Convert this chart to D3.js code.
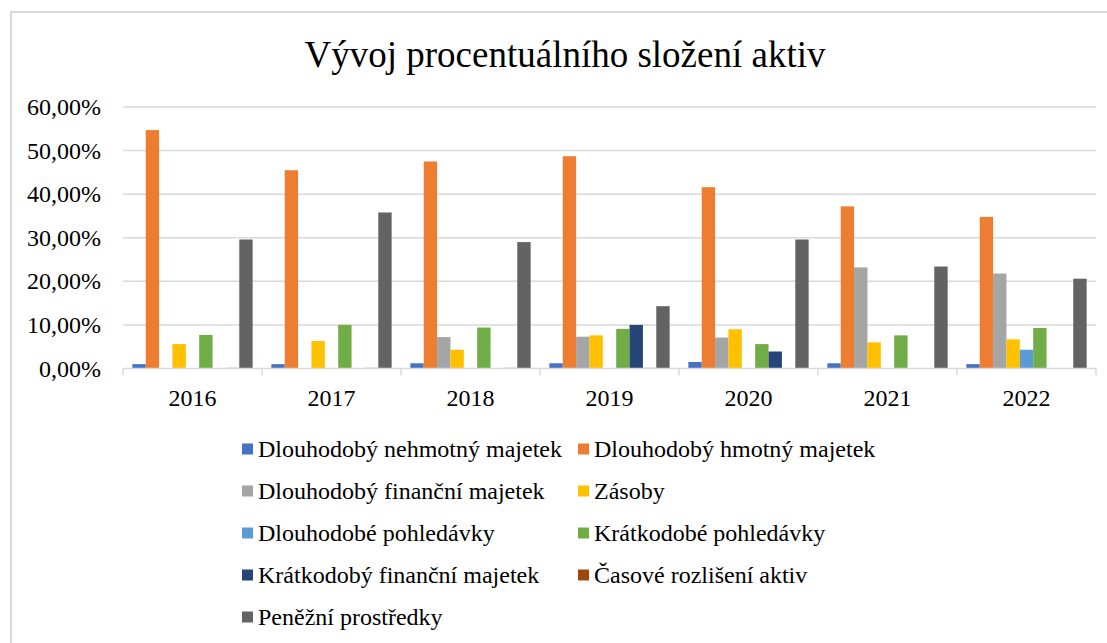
<!DOCTYPE html>
<html>
<head>
<meta charset="utf-8">
<script src="https://cdn.jsdelivr.net/npm/d3@7"></script>
<style>
  body { margin: 0; background: #fff; }
  svg { display: block; font-family: "Liberation Serif", "Times New Roman", serif; }
</style>
</head>
<body>
<div id="main"></div>
<script>
const years = ["2016", "2017", "2018", "2019", "2020", "2021", "2022"];
const seriesNames = [
  "Dlouhodobý nehmotný majetek",
  "Dlouhodobý hmotný majetek",
  "Dlouhodobý finanční majetek",
  "Zásoby",
  "Dlouhodobé pohledávky",
  "Krátkodobé pohledávky",
  "Krátkodobý finanční majetek",
  "Časové rozlišení aktiv",
  "Peněžní prostředky"
];
const colors = ["#4472C4", "#ED7D31", "#A5A5A5", "#FFC000", "#5B9BD5", "#70AD47", "#264478", "#9E480E", "#636363"];

// values in %
const dnm = [1.0, 1.0, 1.2, 1.2, 1.5, 1.2, 1.0];
const dhm = [54.7, 45.5, 47.5, 48.7, 41.6, 37.2, 34.8];
const dfm = [0, 0, 7.2, 7.3, 7.1, 23.2, 21.8];
const zasoby = [5.6, 6.3, 4.3, 7.6, 9.0, 6.0, 6.7];
const dp = [0, 0, 0, 0, 0, 0, 4.3];
const kp = [7.7, 10.0, 9.4, 9.1, 5.6, 7.6, 9.3];
const kfm = [0, 0, 0, 10.0, 3.9, 0, 0];
const cra = [0.15, 0.15, 0.15, 0.15, 0, 0, 0];
const pp = [29.6, 35.8, 29.0, 14.3, 29.6, 23.4, 20.6];
const seriesValues = [dnm, dhm, dfm, zasoby, dp, kp, kfm, cra, pp];
const yTicks = [0, 10, 20, 30, 40, 50, 60];

const width = 1107, height = 643;
const svg = d3.select("#main").append("svg")
  .attr("width", width).attr("height", height);

// chart border
svg.append("rect")
  .attr("x", 11).attr("y", 12)
  .attr("width", 1120).attr("height", 660)
  .attr("fill", "none").attr("stroke", "#d9d9d9").attr("stroke-width", 2);

svg.append("text")
  .attr("x", 565).attr("y", 67)
  .attr("text-anchor", "middle")
  .style("font-size", "37px")
  .text("Vývoj procentuálního složení aktiv");

const x0 = d3.scaleBand().domain(years).range([123, 1096]).paddingInner(0).paddingOuter(0);
const x1 = d3.scaleBand().domain(d3.range(seriesNames.length))
  .range([0, x0.bandwidth()]).paddingOuter(0.7).paddingInner(0);
const y = d3.scaleLinear().domain([0, 60]).range([368.5, 107]);

// gridlines
svg.append("g").selectAll("line")
  .data(yTicks.slice(1))
  .join("line")
  .attr("x1", 123).attr("x2", 1096)
  .attr("y1", d => y(d)).attr("y2", d => y(d))
  .attr("stroke", "#d9d9d9").attr("stroke-width", 1.5);

// y axis labels
svg.append("g").selectAll("text")
  .data(yTicks)
  .join("text")
  .attr("x", 101).attr("y", d => y(d) + 8)
  .attr("text-anchor", "end")
  .style("font-size", "24px")
  .text(d => d3.format(".2f")(d).replace(".", ",") + "%");

// bars
const groups = svg.append("g").selectAll("g")
  .data(years)
  .join("g")
  .attr("transform", d => `translate(${x0(d)},0)`);

groups.selectAll("rect")
  .data((d, i) => seriesValues.map((s, k) => ({ k, v: s[i] })))
  .join("rect")
  .attr("x", d => x1(d.k))
  .attr("width", x1.bandwidth())
  .attr("y", d => y(d.v))
  .attr("height", d => y(0) - y(d.v))
  .attr("fill", d => colors[d.k]);

// x axis baseline + ticks
svg.append("line")
  .attr("x1", 123).attr("x2", 1096)
  .attr("y1", y(0)).attr("y2", y(0))
  .attr("stroke", "#d9d9d9").attr("stroke-width", 1.5);
svg.append("g").selectAll("line")
  .data(d3.range(years.length + 1))
  .join("line")
  .attr("x1", i => 123 + i * x0.step()).attr("x2", i => 123 + i * x0.step())
  .attr("y1", y(0)).attr("y2", y(0) + 7)
  .attr("stroke", "#d9d9d9").attr("stroke-width", 1.5);

svg.append("g").selectAll("text")
  .data(years)
  .join("text")
  .attr("x", d => x0(d) + x0.bandwidth() / 2)
  .attr("y", 406)
  .attr("text-anchor", "middle")
  .style("font-size", "24px")
  .text(d => d);

// legend
const legend = svg.append("g").selectAll("g")
  .data(seriesNames)
  .join("g")
  .attr("transform", (d, i) => `translate(${i % 2 === 0 ? 242 : 578},${449 + Math.floor(i / 2) * 42})`);

legend.append("rect")
  .attr("x", 0).attr("y", -5.5)
  .attr("width", 11).attr("height", 11)
  .attr("fill", (d, i) => colors[i]);

legend.append("text")
  .attr("x", 16).attr("y", 8)
  .style("font-size", "24px")
  .text(d => d);
</script>
</body>
</html>
